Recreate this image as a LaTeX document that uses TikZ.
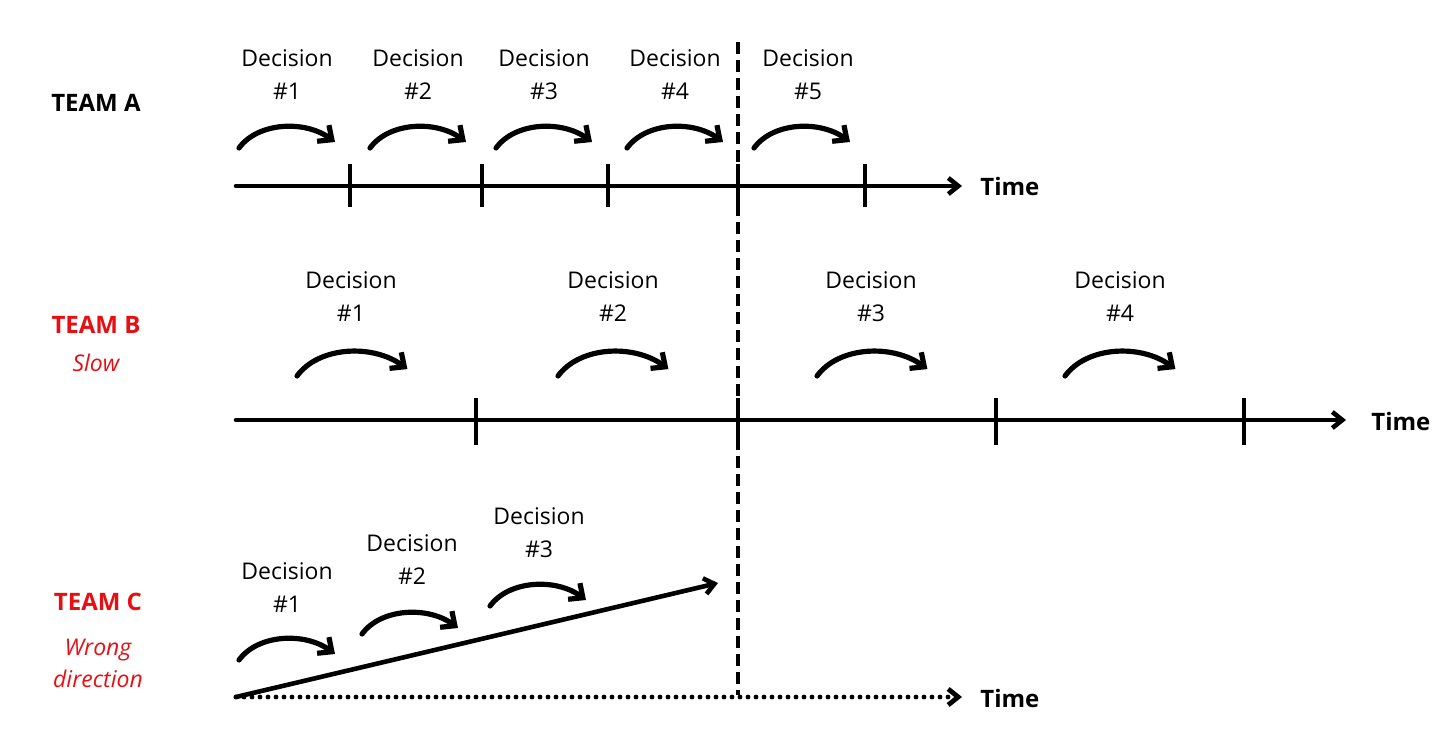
\documentclass[tikz,border=0pt]{standalone}
\usepackage{fontspec}
\setmainfont{Open Sans}
\usetikzlibrary{arrows.meta}
\definecolor{teamred}{RGB}{230,16,20}
\begin{document}
\begin{tikzpicture}[x=0.5pt,y=-0.5pt,
  lbl/.style={align=center,font=\fontsize{11.5}{16.5}\selectfont,inner sep=0pt},
  team/.style={font=\bfseries\fontsize{12}{14}\selectfont,inner sep=0pt},
  sub/.style={align=center,text=teamred,font=\itshape\fontsize{11.5}{16}\selectfont,inner sep=0pt},
  timelbl/.style={anchor=west,font=\bfseries\fontsize{12}{14}\selectfont,inner sep=0pt},
  axis/.style={line width=2.3pt,line cap=round,-{Straight Barb[length=5pt,width=8pt]}},
  tickmark/.style={line width=2.3pt},
  carrow/.style={line width=2.6pt,line cap=round,-{Straight Barb[length=5.5pt,width=10pt]}},
  curl/.pic={\draw[carrow] (0,0) .. controls (19,-26) and (66,-28) .. (96,-6);}
]
\useasboundingbox (0,0) rectangle (1456,753);

% dashed "now" line
\coordinate (dtop) at (738,42);
\coordinate (dbot) at (738,695);
\draw[line width=2.4pt,dash pattern=on 6pt off 3pt] (dtop) -- (dbot);

% ---------------- TEAM A ----------------
\node[team] (teamA) at (96,103) {TEAM A};
\coordinate (a0) at (236,186);
\coordinate (a1) at (962,186);
\draw[axis] (a0) -- (a1);
\node[timelbl] (timeA) at (980,187) {Time};
\foreach \x in {350,482,608,738,865}
  \draw[tickmark] (\x,164) -- (\x,207);
\foreach \x/\n/\cx in {239/1/287,370/2/418,496/3/544,627/4/675,754/5/808}{
  \node[lbl] (dA\n) at (\cx,75) {Decision\\\#\n};
  \pic at (\x,148) {curl};
}

% ---------------- TEAM B ----------------
\node[team,text=teamred] (teamB) at (96,325) {TEAM B};
\node[sub] (slowB) at (96,363) {Slow};
\coordinate (b0) at (236,420);
\coordinate (b1) at (1346,420);
\draw[axis] (b0) -- (b1);
\node[timelbl] (timeB) at (1371,421) {Time};
\foreach \x in {476,738,996,1244}
  \draw[tickmark] (\x,398) -- (\x,445);
\foreach \x/\n/\cx in {297/1/351,558/2/613,817/3/871,1065/4/1120}{
  \node[lbl] (dB\n) at (\cx,297) {Decision\\\#\n};
  \pic[scale=1.15] at (\x,376) {curl};
}

% ---------------- TEAM C ----------------
\node[team,text=teamred] (teamC) at (98,602) {TEAM C};
\node[sub] (subC) at (98,663) {Wrong\\direction};
\coordinate (c0) at (236,697);
\coordinate (c1) at (962,697);
\coordinate (ctip) at (718,583);
\draw[line width=2.4pt,line cap=round,dash pattern=on 0pt off 4pt,-{Straight Barb[length=5pt,width=8pt,line cap=butt]}] (c0) -- (c1);
\node[timelbl] (timeC) at (980,698) {Time};
\draw[axis] (c0) -- (ctip);
\node[lbl] (dC1) at (287,588) {Decision\\\#1};
\node[lbl] (dC2) at (412,560) {Decision\\\#2};
\node[lbl] (dC3) at (539,533) {Decision\\\#3};
\pic at (239,660) {curl};
\pic at (362,634) {curl};
\pic at (490,606) {curl};
\end{tikzpicture}
\end{document}
